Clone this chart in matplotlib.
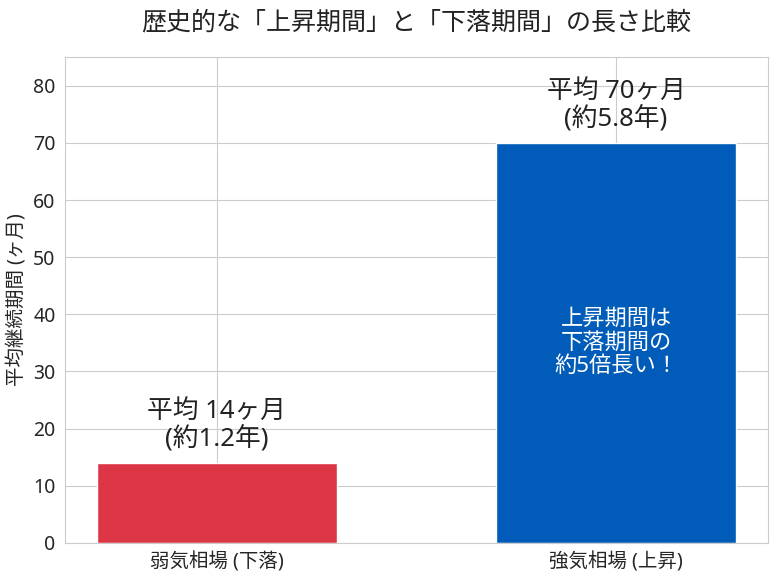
import matplotlib
matplotlib.use("Agg")
import matplotlib.pyplot as plt
import seaborn as sns

categories = ["弱気相場 (下落)", "強気相場 (上昇)"]
months = [14, 70]
years = [1.2, 5.8]
colors = ["#dc3545", "#005cb8"]

sns.set_style("whitegrid")
plt.rcParams['font.family'] = ['Noto Sans', 'Noto Sans CJK JP', 'DejaVu Sans']

fig, ax = plt.subplots(figsize=(7.77, 5.77), dpi=100)
bars = ax.bar(categories, months, color=colors, width=0.6)
ax.set_ylim(0, 85)
ax.set_ylabel("平均継続期間 (ヶ月)", fontsize=14)
ax.set_title("歴史的な「上昇期間」と「下落期間」の長さ比較", fontsize=18, pad=20, color='#222222')
ax.tick_params(axis='y', labelsize=14)
ax.tick_params(axis='x', labelsize=14)

for b, m, y in zip(bars, months, years):
    ax.text(b.get_x() + b.get_width() / 2, m + 2, f"平均 {m}ヶ月\n(約{y}年)",
            ha='center', va='bottom', fontsize=18.5, color='#222222', linespacing=1.05)

b1 = bars[1]
ax.text(b1.get_x() + b1.get_width() / 2, 35, "上昇期間は\n下落期間の\n約5倍長い！",
        ha='center', va='center', fontsize=16, color='white', linespacing=1.15)

fig.subplots_adjust(left=0.084, right=0.988, top=0.901, bottom=0.059)
fig.savefig("out.png", dpi=100)
